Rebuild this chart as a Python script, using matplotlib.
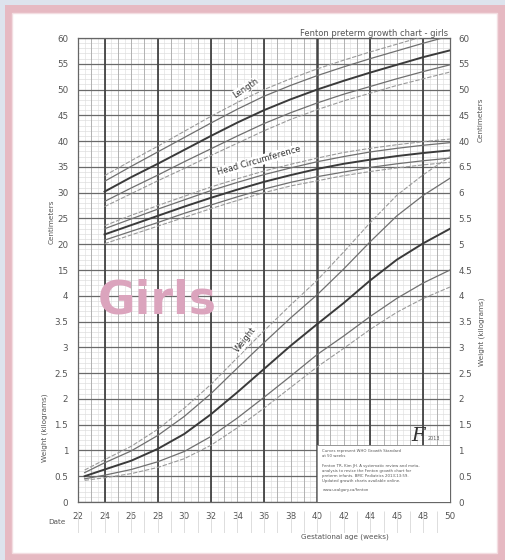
import numpy as np
import matplotlib
matplotlib.use("Agg")
import matplotlib.pyplot as plt
from matplotlib.patches import Rectangle

# percentile columns: 3rd, 10th, 50th, 90th, 97th
pct_names = ["3", "10", "50", "90", "97"]

weight_weeks = [22.5, 24, 26, 28, 30, 32, 34, 36, 38, 40, 42, 44, 46, 48, 50]
weight_kg = [
    [0.42, 0.45, 0.50, 0.57, 0.62],
    [0.47, 0.52, 0.63, 0.76, 0.82],
    [0.55, 0.63, 0.80, 0.99, 1.08],
    [0.67, 0.78, 1.03, 1.29, 1.41],
    [0.84, 0.98, 1.32, 1.66, 1.82],
    [1.10, 1.27, 1.70, 2.10, 2.28],
    [1.44, 1.63, 2.13, 2.60, 2.80],
    [1.82, 2.03, 2.58, 3.09, 3.32],
    [2.22, 2.44, 3.03, 3.57, 3.82],
    [2.62, 2.86, 3.45, 4.02, 4.30],
    [2.98, 3.22, 3.86, 4.52, 4.85],
    [3.35, 3.60, 4.30, 5.05, 5.42],
    [3.68, 3.95, 4.70, 5.55, 5.95],
    [3.95, 4.25, 5.02, 5.95, 6.35],
    [4.17, 4.50, 5.30, 6.28, 6.70],
]

lh_weeks = [24, 26, 28, 30, 32, 34, 36, 38, 40, 42, 44, 46, 48, 50]
length_cm = [
    [27.3, 28.3, 30.2, 32.2, 33.3],
    [29.8, 30.9, 33.0, 35.1, 36.2],
    [32.3, 33.4, 35.6, 37.9, 39.0],
    [34.7, 36.0, 38.3, 40.7, 41.9],
    [37.2, 38.5, 41.0, 43.5, 44.8],
    [39.6, 41.0, 43.6, 46.2, 47.5],
    [42.0, 43.4, 46.0, 48.7, 50.0],
    [44.2, 45.5, 48.1, 50.8, 52.1],
    [46.1, 47.4, 50.0, 52.7, 54.0],
    [47.8, 49.1, 51.7, 54.4, 55.7],
    [49.3, 50.6, 53.3, 56.0, 57.3],
    [50.8, 52.1, 54.8, 57.5, 58.8],
    [52.1, 53.5, 56.3, 59.0, 60.3],
    [53.4, 54.8, 57.6, 60.4, 61.8],
]
head_cm = [
    [20.1, 20.8, 21.9, 23.0, 23.6],
    [21.8, 22.5, 23.7, 24.9, 25.6],
    [23.5, 24.2, 25.5, 26.8, 27.5],
    [25.2, 26.0, 27.3, 28.6, 29.3],
    [26.9, 27.6, 29.0, 30.4, 31.1],
    [28.5, 29.2, 30.6, 32.0, 32.7],
    [30.0, 30.7, 32.1, 33.5, 34.2],
    [31.3, 32.0, 33.4, 34.8, 35.5],
    [32.3, 33.1, 34.6, 36.0, 36.7],
    [33.3, 34.0, 35.6, 37.0, 37.8],
    [34.1, 34.9, 36.4, 37.9, 38.6],
    [34.8, 35.6, 37.1, 38.6, 39.3],
    [35.4, 36.2, 37.7, 39.2, 39.9],
    [35.9, 36.7, 38.2, 39.7, 40.4],
]

x_ticks = list(range(22, 51, 2))
left_labels = ["0", "0.5", "1", "1.5", "2", "2.5", "3", "3.5", "4",
               "15", "20", "25", "30", "35", "40", "45", "50", "55", "60"]
right_labels = ["0", "0.5", "1", "1.5", "2", "2.5", "3", "3.5", "4", "4.5",
                "5", "5.5", "6", "6.5", "40", "45", "50", "55", "60"]


def cm_units(v):
    # 5 cm per grid unit, 15 cm sits on unit 9
    return np.asarray(v) / 5.0 + 6


def kg_units(v):
    return np.asarray(v) * 2.0


W, H = 505, 560
fig = plt.figure(figsize=(W / 100, H / 100), dpi=100, facecolor="#dde3ed")

# pink frame + white page
fig.patches.append(Rectangle((5 / W, 0), 500 / W, 555 / H, transform=fig.transFigure,
                             facecolor="#e6b9c2", edgecolor="none", zorder=-3))
fig.patches.append(Rectangle((12 / W, 7 / H), 485 / W, 540 / H, transform=fig.transFigure,
                             facecolor="white", edgecolor="#f3dde1", lw=1, zorder=-2))

x0, x1, y0, y1 = 78, 450, 38, 502
ax = fig.add_axes([x0 / W, 1 - y1 / H, (x1 - x0) / W, (y1 - y0) / H])
ax.set_xlim(22, 50)
ax.set_ylim(0, 18)

# grid
for v in np.arange(0, 18.01, 0.2):
    ax.axhline(v, color="#d6d6d6", lw=0.4, zorder=0)
for v in range(19):
    ax.axhline(v, color="#6a6a6a", lw=0.9, zorder=1)
for v in np.arange(22, 50.01, 0.5):
    ax.axvline(v, color="#dcdcdc", lw=0.4, zorder=0)
for v in range(22, 51):
    ax.axvline(v, color="#aaaaaa", lw=0.6, zorder=0)
for v in range(24, 51, 4):
    ax.axvline(v, color="#444444", lw=1.8 if v == 40 else 1.3, zorder=1)

styles = [
    dict(color="#9a9a9a", lw=0.8, ls=(0, (4, 1.5))),
    dict(color="#707070", lw=0.9, ls="-"),
    dict(color="#3a3a3a", lw=1.4, ls="-"),
    dict(color="#707070", lw=0.9, ls="-"),
    dict(color="#9a9a9a", lw=0.8, ls=(0, (4, 1.5))),
]

w = np.array(weight_kg)
L = np.array(length_cm)
hc = np.array(head_cm)
for i in range(5):
    ax.plot(lh_weeks, cm_units(L[:, i]), zorder=3, **styles[i])
    ax.plot(lh_weeks, cm_units(hc[:, i]), zorder=3, **styles[i])
    ax.plot(weight_weeks, kg_units(w[:, i]), zorder=3, **styles[i])

lab = dict(fontsize=6, color="#333333", zorder=5, ha="center", va="center",
           bbox=dict(facecolor="white", edgecolor="none", pad=0.5))
ax.text(34.6, cm_units(50.2), "Length", rotation=34, **lab)
ax.text(35.6, cm_units(36.2), "Head Circumference", rotation=16, **lab)
ax.text(34.6, kg_units(3.15), "Weight", rotation=52, **lab)

ax.text(28.0, kg_units(3.9), "Girls", fontsize=33, fontweight="bold",
        color="#dba4bd", ha="center", va="center", zorder=4)

# info box
ax.add_patch(Rectangle((40, 0), 10, 2.2, facecolor="white", edgecolor="#888888",
                       lw=0.6, zorder=6))
info = ("Curves represent WHO Growth Standard\nat 50 weeks\n\n"
        "Fenton TR, Kim JH. A systematic review and meta-\n"
        "analysis to revise the Fenton growth chart for\n"
        "preterm infants. BMC Pediatrics 2013;13:59.\n"
        "Updated growth charts available online.\n\n"
        "www.ucalgary.ca/fenton")
ax.text(40.4, 2.05, info, fontsize=2.8, color="#555555", va="top", ha="left",
        zorder=7, linespacing=1.3)
ax.text(47.6, 2.55, "F", fontsize=14, fontstyle="italic", family="DejaVu Serif",
        color="#333333", ha="center", va="center", zorder=7)
ax.text(48.8, 2.45, "2013", fontsize=3.5, color="#555555", ha="center",
        va="center", zorder=7)

ax.set_xticks(x_ticks)
ax.set_yticks(range(19))
ax.set_yticklabels(left_labels)
ax.tick_params(length=0, labelsize=6.3, labelcolor="#555555", pad=7)
for s in ax.spines.values():
    s.set_color("#666666")
    s.set_linewidth(0.9)

ax2 = ax.twinx()
ax2.set_ylim(0, 18)
ax2.set_yticks(range(19))
ax2.set_yticklabels(right_labels)
ax2.tick_params(length=0, labelsize=6.3, labelcolor="#555555", pad=6)
for s in ax2.spines.values():
    s.set_visible(False)

# date strip under the axis
axd = fig.add_axes([x0 / W, 1 - 533 / H, (x1 - x0) / W, 22 / H])
axd.set_xlim(22, 50)
axd.set_ylim(0, 1)
axd.vlines(range(22, 51), 0, 1, color="#dddddd", lw=0.7)
axd.axis("off")

small = dict(fontsize=5.2, color="#555555", ha="center", va="center")
fig.text(57 / W, 1 - 522 / H, "Date", **small)
fig.text(345 / W, 1 - 537 / H, "Gestational age (weeks)", **small)
fig.text(448 / W, 1 - 33 / H, "Fenton preterm growth chart - girls", fontsize=6,
         color="#555555", ha="right", va="center")
fig.text(52 / W, 1 - 222 / H, "Centimeters", rotation=90, **small)
fig.text(45 / W, 1 - 428 / H, "Weight (kilograms)", rotation=90, **small)
fig.text(481 / W, 1 - 120 / H, "Centimeters", rotation=90, **small)
fig.text(482 / W, 1 - 332 / H, "Weight (kilograms)", rotation=90, **small)

fig.savefig("out.png", dpi=100, facecolor=fig.get_facecolor())
